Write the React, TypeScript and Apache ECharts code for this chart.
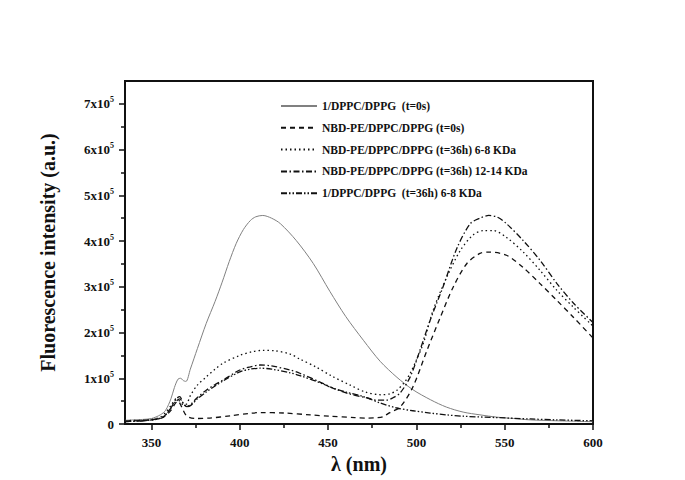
import React, { useEffect, useRef } from "react";
import * as echarts from "echarts";

// wavelengths (nm) and intensities (units of 10^5 a.u.)
const solidT0: [number, number][] = [
  [335, 0.08], [340, 0.09], [345, 0.1], [350, 0.12], [355, 0.2], [358, 0.3], [361, 0.55], [363, 0.8],
  [365, 0.98], [366.5, 1.0], [368, 0.95], [369.5, 0.93], [372, 1.2], [376, 1.65], [381, 2.2], [386, 2.68],
  [390, 3.1], [394, 3.55], [398, 3.95], [402, 4.25], [406, 4.45], [409, 4.53], [413, 4.56], [418, 4.5], [423, 4.38],
  [432, 4.01], [441.6, 3.51], [451, 2.9], [460, 2.35], [470, 1.83], [479.5, 1.37], [489, 1.02], [498, 0.75],
  [508, 0.53], [517, 0.37], [526.5, 0.26], [536, 0.2], [545.6, 0.15], [555, 0.12], [564.5, 0.09], [580, 0.07], [600, 0.05],
];
const nbdT0: [number, number][] = [
  [335, 0.06], [340, 0.07], [345, 0.08], [350, 0.09], [355, 0.12], [358, 0.18], [361, 0.3], [363.5, 0.45],
  [365, 0.5], [367, 0.38], [369, 0.22], [371, 0.15], [375, 0.12], [383, 0.13], [395, 0.18], [405, 0.23],
  [412, 0.25], [425, 0.24], [440, 0.2], [451, 0.17], [465, 0.14], [472, 0.13], [478, 0.14], [481, 0.16],
  [485, 0.25], [490.8, 0.37], [498, 0.81], [506, 1.61], [513.5, 2.33], [520.8, 2.99], [528.6, 3.51],
  [536, 3.73], [540.7, 3.76], [551, 3.69], [560.5, 3.42], [570, 3.07], [579.6, 2.7], [589, 2.33], [600, 1.88],
];
const nbd36Small: [number, number][] = [
  [335, 0.06], [340, 0.08], [345, 0.08], [350, 0.1], [355, 0.15], [358, 0.25], [361, 0.4], [364, 0.55],
  [366, 0.5], [368, 0.42], [370, 0.44], [372, 0.62], [376, 0.85], [381, 1.03], [386, 1.2], [390.5, 1.33],
  [400, 1.5], [407, 1.58], [413, 1.61], [420, 1.6], [428.5, 1.53], [434, 1.42], [443, 1.25], [452, 1.05],
  [462.5, 0.85], [471, 0.7], [479.5, 0.64], [485, 0.66], [489, 0.74], [493, 0.9], [496.5, 1.11], [500, 1.4],
  [504, 1.77], [509.5, 2.49], [517.2, 3.21], [524.8, 3.79], [532, 4.13], [538, 4.23], [543.5, 4.23],
  [551, 4.08], [560.5, 3.76], [570, 3.36], [579.6, 2.92], [589, 2.55], [600, 2.14],
];
const nbd36Large: [number, number][] = [
  [335, 0.05], [340, 0.06], [345, 0.07], [350, 0.09], [355, 0.13], [358, 0.2], [361, 0.35], [364, 0.55],
  [366, 0.6], [368, 0.45], [370, 0.38], [372, 0.42], [376, 0.58], [381, 0.74], [386, 0.86], [390.5, 0.96],
  [400, 1.18], [406, 1.25], [411.5, 1.29], [418, 1.27], [428.5, 1.18], [434, 1.11], [447, 0.89], [453, 0.78],
  [462, 0.66], [472, 0.57], [478, 0.52], [483, 0.52], [487, 0.58], [490.8, 0.68], [496.5, 1.03], [502, 1.61],
  [507.8, 2.27], [515, 2.99], [523, 3.85], [530.5, 4.38], [536, 4.5], [541, 4.56], [546, 4.52], [551, 4.38],
  [560.5, 4.01], [570, 3.58], [579.6, 3.07], [589, 2.64], [600, 2.22],
];
const dppc36: [number, number][] = [
  [335, 0.05], [340, 0.06], [345, 0.07], [350, 0.09], [355, 0.12], [358, 0.2], [361, 0.35], [364, 0.5],
  [366, 0.55], [368, 0.45], [370, 0.38], [372, 0.4], [376, 0.55], [381, 0.7], [386, 0.83], [390.5, 0.94],
  [400, 1.14], [406, 1.2], [411.5, 1.22], [418, 1.2], [428.5, 1.12], [434, 1.06], [447, 0.88], [451, 0.81],
  [460, 0.7], [470, 0.6], [479.5, 0.46], [489, 0.35], [498, 0.29], [507.8, 0.24], [517, 0.2], [526.5, 0.17],
  [545.6, 0.14], [564.5, 0.11], [580, 0.09], [600, 0.07],
];

const seriesNames = [
  "1/DPPC/DPPG  (t=0s)",
  "NBD-PE/DPPC/DPPG (t=0s)",
  "NBD-PE/DPPC/DPPG (t=36h) 6-8 KDa",
  "NBD-PE/DPPC/DPPG (t=36h) 12-14 KDa",
  "1/DPPC/DPPG  (t=36h) 6-8 KDa",
];
const xMajorTicks = [350, 400, 450, 500, 550, 600];
const xMinorTicks = [375, 425, 475, 525, 575];
const yMajorTicks = [0, 100000, 200000, 300000, 400000, 500000, 600000, 700000];
const yMinorTicks = [50000, 150000, 250000, 350000, 450000, 550000, 650000];

const SCALE = 100000;
const FONT = "Liberation Serif";

export default function App() {
  const ref = useRef<HTMLDivElement>(null);
  useEffect(() => {
    document.body.style.margin = "0";
    const chart = echarts.init(ref.current!, undefined, { renderer: "svg" });
    const datasets = [solidT0, nbdT0, nbd36Small, nbd36Large, dppc36];
    const styles: any[] = [
      { color: "#808080", width: 1, type: "solid" },
      { color: "#111", width: 1.3, type: [5, 4] },
      { color: "#111", width: 1.3, type: [1.5, 3] },
      { color: "#111", width: 1.3, type: [6, 2.5, 1.5, 2.5] },
      { color: "#111", width: 1.3, type: [6, 2, 1.5, 2, 1.5, 2] },
    ];
    const xBase = { type: "value", min: 335, max: 600, gridIndex: 0 };
    const yBase = { type: "value", min: 0, max: 750000, gridIndex: 0 };
    chart.setOption({
      animation: false,
      backgroundColor: "#fff",
      grid: { left: 125, right: 92, top: 81, bottom: 56, show: true, borderColor: "#111", borderWidth: 2, containLabel: false },
      legend: {
        orient: "vertical",
        left: 275,
        top: 95,
        itemWidth: 36,
        itemHeight: 14,
        itemGap: 9.8,
        itemStyle: { opacity: 0, borderWidth: 0 },
        textStyle: { fontFamily: FONT, fontWeight: "bold", fontSize: 11.5, color: "#111" },
        data: seriesNames,
      },
      xAxis: [
        {
          ...xBase,
          position: "bottom",
          name: "λ (nm)",
          nameLocation: "middle",
          nameGap: 29,
          nameTextStyle: { fontFamily: FONT, fontWeight: "bold", fontSize: 20, color: "#111" },
          axisLine: { show: true, lineStyle: { color: "#111", width: 2 } },
          axisTick: { show: true, inside: false, length: 6, lineStyle: { color: "#111", width: 1.5 }, customValues: xMajorTicks },
          axisLabel: { customValues: xMajorTicks, fontFamily: FONT, fontWeight: "bold", fontSize: 13, color: "#111", margin: 12 },
          splitLine: { show: false },
        },
        {
          ...xBase,
          position: "bottom",
          axisLine: { show: false },
          axisTick: { show: true, inside: false, length: 4, lineStyle: { color: "#111", width: 1.5 }, customValues: xMinorTicks },
          axisLabel: { show: false },
          splitLine: { show: false },
        },
      ],
      yAxis: [
        {
          ...yBase,
          position: "left",
          name: "Fluorescence intensity (a.u.)",
          nameLocation: "middle",
          nameGap: 67,
          nameTextStyle: { fontFamily: FONT, fontWeight: "bold", fontSize: 20, color: "#111" },
          axisLine: { show: true, lineStyle: { color: "#111", width: 2 } },
          axisTick: { show: true, inside: false, length: 6, lineStyle: { color: "#111", width: 1.5 }, customValues: yMajorTicks },
          axisLabel: {
            customValues: yMajorTicks,
            margin: 11,
            formatter: (v: number) => (v === 0 ? "{a|0}" : `{a|${Math.round(v / SCALE)}x10}{s|5}`),
            rich: {
              a: { fontFamily: FONT, fontWeight: "bold", fontSize: 13, color: "#111" },
              s: { fontFamily: FONT, fontWeight: "bold", fontSize: 8, color: "#111", padding: [0, 0, 8, 0] },
            },
          },
          splitLine: { show: false },
        },
        {
          ...yBase,
          position: "left",
          axisLine: { show: false },
          axisTick: { show: true, inside: false, length: 4, lineStyle: { color: "#111", width: 1.5 }, customValues: yMinorTicks },
          axisLabel: { show: false },
          splitLine: { show: false },
        },
      ],
      series: datasets.map((d, i) => ({
        name: seriesNames[i],
        type: "line",
        xAxisIndex: 0,
        yAxisIndex: 0,
        smooth: 0.3,
        showSymbol: false,
        symbol: "none",
        lineStyle: styles[i],
        itemStyle: { color: styles[i].color },
        data: d.map(([x, y]) => [x, y * SCALE]),
      })),
    });
    return () => chart.dispose();
  }, []);
  return <div ref={ref} style={{ width: 685, height: 480 }} />;
}
